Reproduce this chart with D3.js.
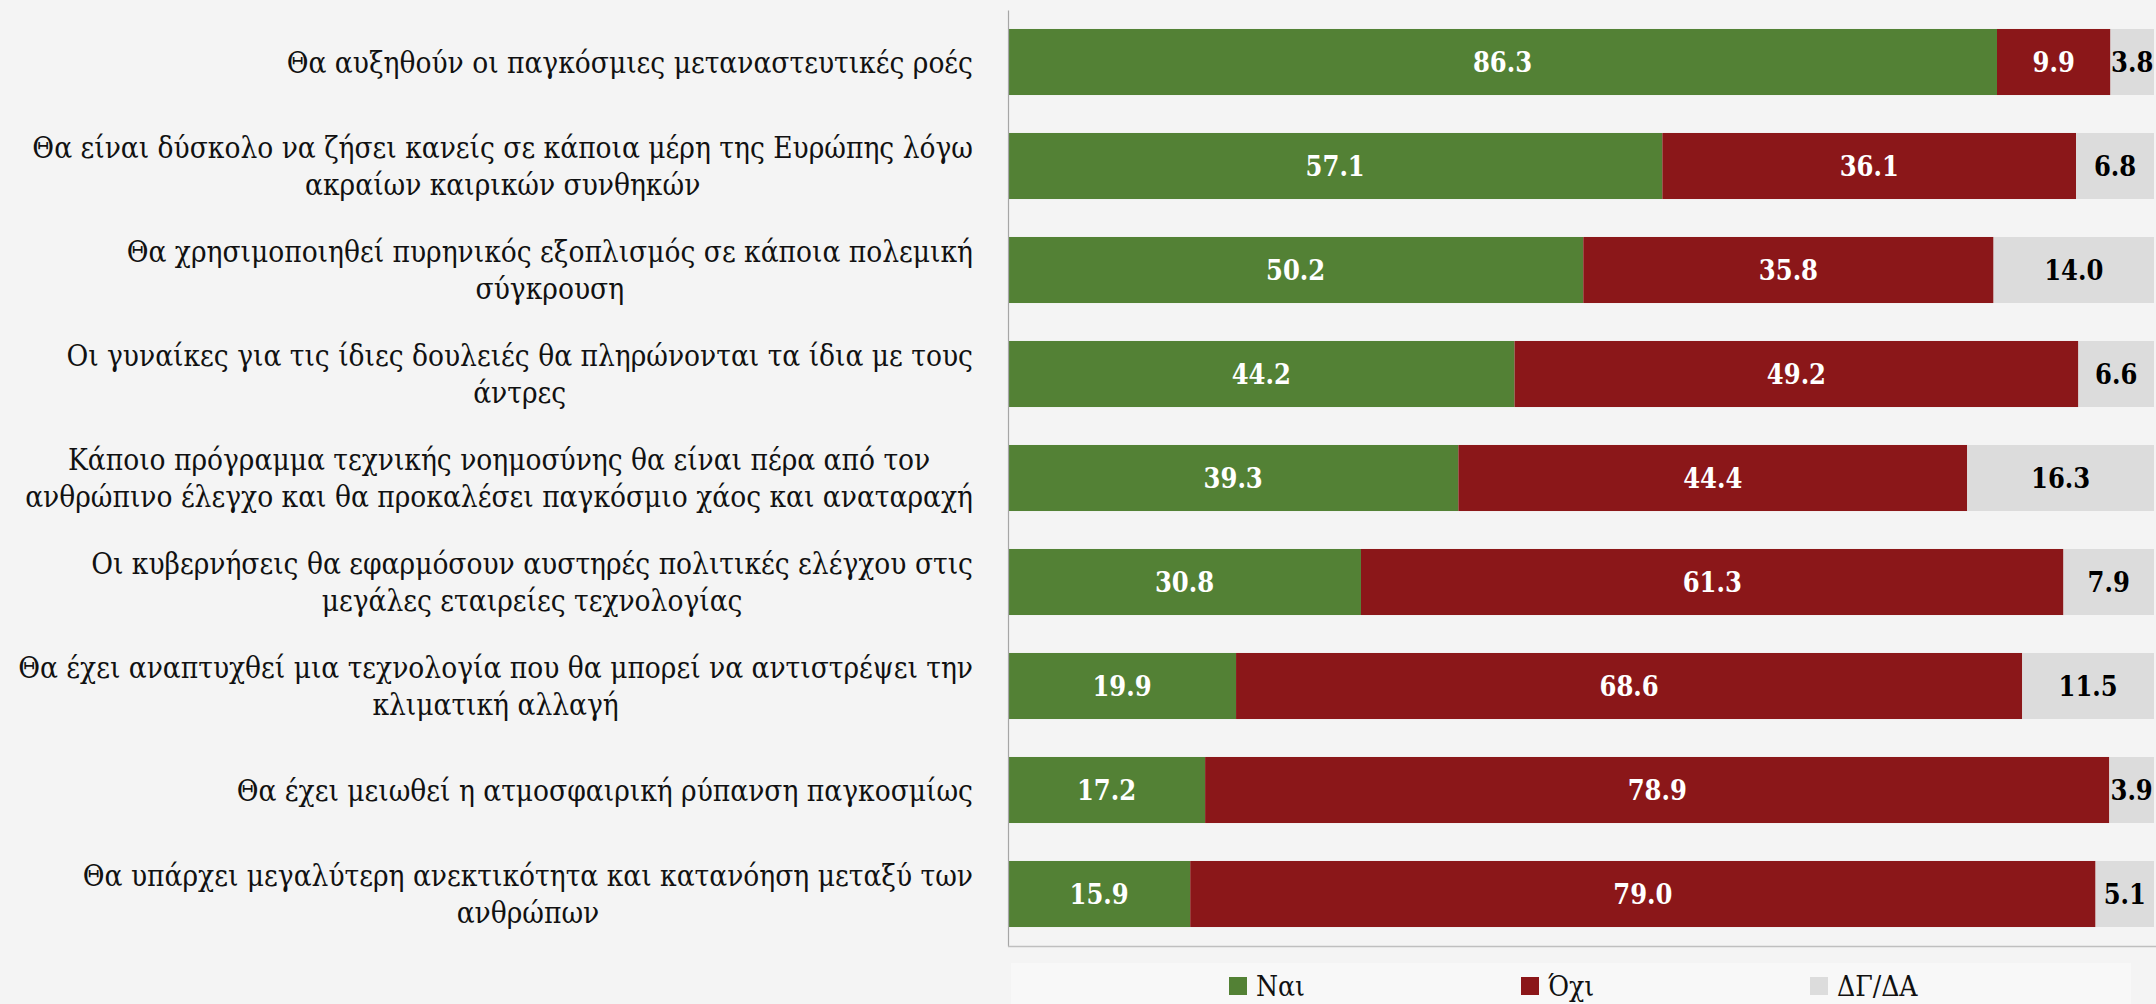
<!DOCTYPE html>
<html>
<head>
<meta charset="utf-8">
<script src="https://cdn.jsdelivr.net/npm/d3@7"></script>
<style>
  html, body { margin: 0; padding: 0; background: #f4f4f4; }
  svg { display: block; }
</style>
</head>
<body>
<svg id="chart" width="2156" height="1004"></svg>
<script>
const categories = [
  "Θα αυξηθούν οι παγκόσμιες μεταναστευτικές ροές",
  "Θα είναι δύσκολο να ζήσει κανείς σε κάποια μέρη της Ευρώπης λόγω\nακραίων καιρικών συνθηκών",
  "Θα χρησιμοποιηθεί πυρηνικός εξοπλισμός σε κάποια πολεμική\nσύγκρουση",
  "Οι γυναίκες για τις ίδιες δουλειές θα πληρώνονται τα ίδια με τους\nάντρες",
  "Κάποιο πρόγραμμα τεχνικής νοημοσύνης θα είναι πέρα από τον\nανθρώπινο έλεγχο και θα προκαλέσει παγκόσμιο χάος και αναταραχή",
  "Οι κυβερνήσεις θα εφαρμόσουν αυστηρές πολιτικές ελέγχου στις\nμεγάλες εταιρείες τεχνολογίας",
  "Θα έχει αναπτυχθεί μια τεχνολογία που θα μπορεί να αντιστρέψει την\nκλιματική αλλαγή",
  "Θα έχει μειωθεί η ατμοσφαιρική ρύπανση παγκοσμίως",
  "Θα υπάρχει μεγαλύτερη ανεκτικότητα και κατανόηση μεταξύ των\nανθρώπων"
];
const nai  = [86.3, 57.1, 50.2, 44.2, 39.3, 30.8, 19.9, 17.2, 15.9];
const oxi  = [9.9, 36.1, 35.8, 49.2, 44.4, 61.3, 68.6, 78.9, 79.0];
const dgda = [3.8, 6.8, 14.0, 6.6, 16.3, 7.9, 11.5, 3.9, 5.1];
const seriesNames = ["Ναι", "Όχι", "ΔΓ/ΔΑ"];
const seriesColors = ["#538135", "#8b1719", "#dcdcdc"];
const labelColors = ["#ffffff", "#ffffff", "#000000"];

const svg = d3.select("#chart");
const x = d3.scaleLinear().domain([0, 100]).range([1008, 2154]);
const y = d3.scaleBand().domain(categories).range([10, 946])
  .paddingInner(0.365).paddingOuter(0.1825);

const rows = categories.map((c, i) => ({cat: c, vals: [nai[i], oxi[i], dgda[i]]}));
const stack = d3.stack().keys([0, 1, 2]).value((d, k) => d.vals[k]);
const stacked = stack(rows);

const serifFont = "'DejaVu Serif Condensed', 'DejaVu Serif', serif";

// bars
const gBars = svg.append("g");
stacked.forEach((layer, k) => {
  gBars.append("g").selectAll("rect").data(layer).join("rect")
    .attr("x", d => x(d[0]))
    .attr("y", d => y(d.data.cat))
    .attr("width", d => x(d[1]) - x(d[0]))
    .attr("height", y.bandwidth())
    .attr("fill", seriesColors[k]);
});

// data labels
stacked.forEach((layer, k) => {
  svg.append("g").selectAll("text").data(layer).join("text")
    .attr("x", d => (x(d[0]) + x(d[1])) / 2)
    .attr("y", d => y(d.data.cat) + y.bandwidth() / 2)
    .attr("dy", "0.36em")
    .attr("text-anchor", "middle")
    .attr("font-family", serifFont)
    .style("font-stretch", "condensed")
    .attr("font-weight", "bold")
    .attr("font-size", 27)
    .attr("fill", labelColors[k])
    .text(d => (d[1] - d[0]).toFixed(1));
});

// axes lines
const yAxis = svg.append("g").attr("transform", `translate(${x(0)},0)`)
  .call(d3.axisLeft(y).tickSize(0).tickFormat(""));
yAxis.select(".domain").attr("stroke", "#a6a6a6").attr("stroke-width", 1.2);
const xAxis = svg.append("g").attr("transform", `translate(0,946)`)
  .call(d3.axisBottom(x).tickValues([]).tickSizeOuter(0).tickFormat(""));
xAxis.select(".domain").attr("stroke", "#bfbfbf").attr("stroke-width", 1.5)
  .attr("d", `M${x(0)},0.5H2156`);

// category labels: block right-aligned, lines centered within block
const labelRight = 973;
const lineGap = 37.5;
const gLab = svg.append("g");
let fontSize = 26;
const groups = categories.map(c => {
  const lines = c.split("\n");
  const t = gLab.append("text")
    .attr("font-family", serifFont)
    .style("font-stretch", "condensed")
    .attr("font-size", fontSize)
    .attr("fill", "#111");
  lines.forEach(l => t.append("tspan").text(l));
  return {c, lines, t};
});
// fit font size so the widest line matches reference width
let maxW = 0;
groups.forEach(g => g.t.selectAll("tspan").each(function() {
  maxW = Math.max(maxW, this.getComputedTextLength());
}));
fontSize = fontSize * 955 / maxW;
groups.forEach(g => {
  g.t.attr("font-size", fontSize);
  const widths = [];
  g.t.selectAll("tspan").each(function() { widths.push(this.getComputedTextLength()); });
  const blockW = d3.max(widths);
  const cx = labelRight - blockW / 2;
  const cy = y(g.c) + y.bandwidth() / 2;
  const n = g.lines.length;
  g.t.attr("text-anchor", "middle");
  g.t.selectAll("tspan")
    .attr("x", cx)
    .attr("y", (d, i) => cy + (i - (n - 1) / 2) * lineGap)
    .attr("dy", "0.36em");
});

// legend
svg.append("rect").attr("x", 1011).attr("y", 963).attr("width", 1120).attr("height", 50)
  .attr("fill", "#f8f8f8");
const legendX = [1229, 1521, 1810];
const leg = svg.append("g").selectAll("g").data(seriesNames).join("g")
  .attr("transform", (d, i) => `translate(${legendX[i]},977)`);
leg.append("rect").attr("width", 18).attr("height", 18)
  .attr("fill", (d, i) => seriesColors[i]);
leg.append("text").attr("x", 27).attr("y", 9).attr("dy", "0.36em")
  .attr("font-family", serifFont).style("font-stretch", "condensed")
  .attr("font-size", 28).attr("fill", "#111")
  .text(d => d);
</script>
</body>
</html>
